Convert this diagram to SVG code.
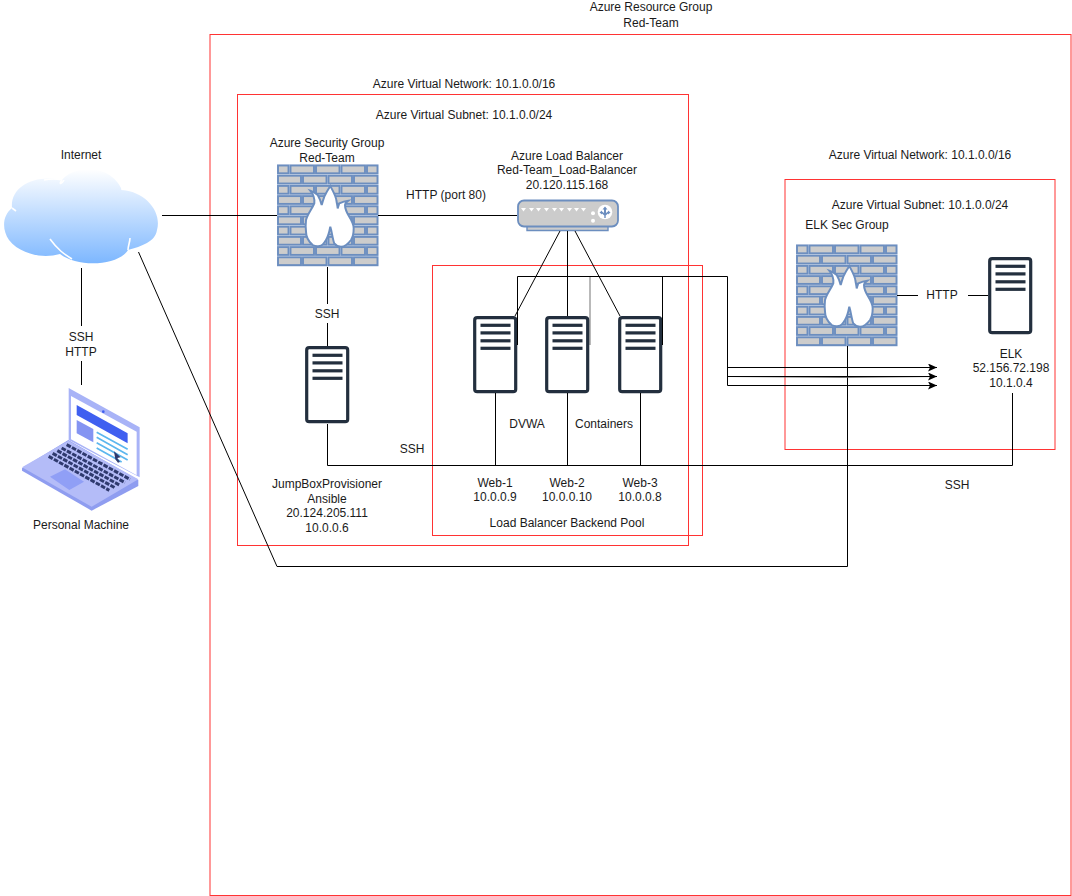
<svg xmlns="http://www.w3.org/2000/svg" xmlns:xlink="http://www.w3.org/1999/xlink" width="1072" height="896" viewBox="0 0 1072 896">
<style>
text{font-family:"Liberation Sans",Arial,Helvetica,sans-serif;font-size:12px;fill:#1a1a1a;text-anchor:middle}
.zone{fill:none;stroke:#ff3333;stroke-width:1}
.c{fill:none;stroke:#000;stroke-width:1}
.a{marker-end:url(#arrow)}
.b{fill:#ccc;stroke:#6c8ebf;stroke-width:1.9}
.bar{fill:#232f3e}
.bg{fill:#fff}
</style>
<defs>
<linearGradient id="cloudFill" x1="0" y1="0" x2="0" y2="1"><stop offset="0" stop-color="#ffffff"/><stop offset="1" stop-color="#7db7ff"/></linearGradient>
<linearGradient id="fade" gradientUnits="userSpaceOnUse" x1="727" y1="0" x2="937" y2="0"><stop offset="0" stop-color="#666" stop-opacity="0"/><stop offset=".55" stop-color="#555" stop-opacity=".8"/><stop offset="1" stop-color="#666" stop-opacity="0"/></linearGradient>
<marker id="arrow" markerUnits="userSpaceOnUse" markerWidth="10" markerHeight="8" refX="9" refY="4" orient="auto"><path d="M0 0L9 4L0 8L2 4Z" fill="#000"/></marker>
<g id="bricksOdd"><rect class="b" x="1" y="1" width="10.500" height="7.800"/><rect class="b" x="13.500" y="1" width="23.500" height="7.800"/><rect class="b" x="39" y="1" width="23.500" height="7.800"/><rect class="b" x="64.500" y="1" width="23.500" height="7.800"/><rect class="b" x="90" y="1" width="10.500" height="7.800"/></g>
<g id="bricksEven"><rect class="b" x="1" y="1" width="23" height="7.800"/><rect class="b" x="26" y="1" width="23.500" height="7.800"/><rect class="b" x="51.500" y="1" width="23.500" height="7.800"/><rect class="b" x="77" y="1" width="23.500" height="7.800"/></g>
<g id="firewall">
<rect x="0" y="0" width="101.500" height="103" fill="#e4eaf5"/>
<use xlink:href="#bricksOdd" href="#bricksOdd" y="0.500"/><use xlink:href="#bricksEven" href="#bricksEven" y="10.700"/>
<use xlink:href="#bricksOdd" href="#bricksOdd" y="20.900"/><use xlink:href="#bricksEven" href="#bricksEven" y="31.100"/>
<use xlink:href="#bricksOdd" href="#bricksOdd" y="41.300"/><use xlink:href="#bricksEven" href="#bricksEven" y="51.500"/>
<use xlink:href="#bricksOdd" href="#bricksOdd" y="61.700"/><use xlink:href="#bricksEven" href="#bricksEven" y="71.900"/>
<use xlink:href="#bricksOdd" href="#bricksOdd" y="82.100"/><use xlink:href="#bricksEven" href="#bricksEven" y="92.300"/>
<path d="M53.300 22C56 27 59 32 59.500 37C60 40 60.500 42 60.700 44.300C61.500 42 62 40 62.300 39.300C65 38 68 37 71.300 36.700C69.500 38 68 39.500 68 41C68 45 70 49 72.300 52.700C75 57 76.700 60 76.700 64.300C76.700 69 76 73 74 76C71 80 68 82.700 64 82.700C61 82.700 59 81.500 57.300 79.300C55.500 75 55 68 53.300 62.700C52.500 67 51.500 72 49 76C47 79.500 45 82 42.300 82C39.500 82.500 37.500 82 35.700 81C31 77 29 72 29 67.700C28.500 63 28.500 60 29 56C30.500 50 35 45 37.300 39.300C37.800 35 36 30 33.300 26.700C36 27.500 38.500 29 40.700 31C42.500 34 44 38 44.700 41C45.500 38 46.500 35 47.300 32.700C49 29 51 25.500 53.300 22Z" fill="#fff" stroke="#6c8ebf" stroke-width="2"/>
</g>
<g id="server">
<rect x="1.700" y="1.700" width="41" height="74" rx="2.500" fill="#fff" stroke="#232f3e" stroke-width="3.200"/>
<rect class="bar" x="7.500" y="7.700" width="30" height="3.200"/><rect class="bar" x="7.500" y="15.300" width="30" height="3.200"/><rect class="bar" x="7.500" y="23.200" width="30" height="3.200"/><rect class="bar" x="7.500" y="30.700" width="30" height="3.200"/>
</g>
</defs>

<g id="zones">
<rect class="zone" x="210" y="34.500" width="861" height="861"/>
<rect class="zone" x="237.500" y="94.500" width="451" height="451"/>
<rect class="zone" x="432.500" y="265.500" width="270" height="270"/>
<rect class="zone" x="785" y="179.500" width="270" height="270"/>
</g>

<g id="node-internet">
<path d="M12 208C10 187 34 174 62 180C72 166 110 162 122 190C146 192 162 212 157 230C155 242 142 246 128 250C118 266 78 268 60 254C42 259 20 254 9 240C2 230 2 216 12 208Z" fill="url(#cloudFill)"/>
<path d="M62 180C58 185 62 184 64 180M62 180Q54 178 44 180M122 190C124 178 120 176 118 170M12 208L16 211M50 239C58 250 64 254 72 259M128 250C128 246 130 242 130 238" fill="none" stroke="#fff" stroke-width="1.600"/>
<text x="81" y="159">Internet</text>
</g>

<g id="node-personal-machine">
<g transform="translate(10 380) scale(.3333)">
<path d="M36 265L175 180L385 300L385 318L245 392L36 272Z" fill="#8f9df0"/>
<path d="M36 262L175 182L385 298L245 380Z" fill="#b4bcf8"/>
<path d="M176 24L389 142L389 292L176 180Z" fill="#a8b3f7"/>
<path d="M183 48L380 155L380 286L183 178Z" fill="#fff"/>
<path d="M200 75L353 160V190L200 105Z" fill="#3f5ff0"/>
<path d="M200 120L250 147V187L200 160Z" fill="#8494f2"/>
<path d="M260 157L353 208M260 172L353 224M260 188L353 240M260 204L335 246" stroke="#5cb6ee" stroke-width="5" fill="none"/>
<circle cx="280" cy="95" r="4" fill="#3f5ff0"/>
<path d="M312 214L332 232L322 234L330 246L324 248L316 238Z" fill="#2f3a6e"/>
<path d="M112 228L175 190L365 295L292 335Z" fill="#b4bcf8"/>
<g stroke="#2f3a6e" stroke-width="9" stroke-dasharray="14 4" fill="none"><path d="M170 194L360 298"/><path d="M155 204L345 308"/><path d="M142 212L330 316"/><path d="M128 220L316 324"/><path d="M116 229L298 331"/></g>
<path d="M120 290L165 268L222 305L178 330Z" fill="#909ff6"/>
</g>
<text x="81" y="529">Personal Machine</text>
</g>

<g id="node-security-group" transform="translate(277 164)"><use xlink:href="#firewall" href="#firewall"/></g>
<g id="node-security-group-label"><text x="327" y="147">Azure Security Group</text><text x="327" y="162">Red-Team</text></g>

<g id="node-load-balancer">
<path d="M527 226V230.500H608V226Z" fill="#ccc" stroke="#6c8ebf" stroke-width="1.400"/>
<rect x="518" y="200.500" width="100" height="26" rx="6" fill="#ccc" stroke="#6c8ebf" stroke-width="1.800"/>
<path d="M521 208h5l-2.500 3.500zM529 208h5l-2.500 3.500zM536 208h5l-2.500 3.500zM544 208h5l-2.500 3.500zM552 208h5l-2.500 3.500zM559 208h5l-2.500 3.500zM567 208h5l-2.500 3.500zM574 208h5l-2.500 3.500zM581 208h5l-2.500 3.500z" fill="#fff"/>
<circle cx="593" cy="213.300" r="2" fill="#fff"/><circle cx="593" cy="220.700" r="2" fill="#fff"/>
<circle cx="605" cy="212" r="7.300" fill="#fff"/>
<path d="M605 206.500L607.500 209.500H606V213L608 211.500V210.500L610.500 212.500L608 214.500V213.500L605.700 215.500V218H604.300V215.500L602 213.500V214.500L599.500 212.500L602 210.500V211.500L604 213V209.500H602.500Z" fill="#6c8ebf"/>
<text x="567" y="160">Azure Load Balancer</text><text x="567" y="174">Red-Team_Load-Balancer</text><text x="567" y="189">20.120.115.168</text>
</g>

<g id="node-jumpbox" transform="translate(305 346)"><use xlink:href="#server" href="#server"/></g>
<g id="node-jumpbox-label"><text x="327" y="488">JumpBoxProvisioner</text><text x="327" y="503">Ansible</text><text x="327" y="517">20.124.205.111</text><text x="327" y="532">10.0.0.6</text></g>

<g id="node-web-1"><use xlink:href="#server" href="#server" x="473" y="316"/><text x="495" y="487">Web-1</text><text x="495" y="501">10.0.0.9</text></g>
<g id="node-web-2"><use xlink:href="#server" href="#server" x="545" y="316"/><text x="567" y="487">Web-2</text><text x="567" y="501">10.0.0.10</text></g>
<g id="node-web-3"><use xlink:href="#server" href="#server" x="618" y="316"/><text x="640" y="487">Web-3</text><text x="640" y="501">10.0.0.8</text></g>

<g id="node-elk-firewall" transform="translate(796 244)"><use xlink:href="#firewall" href="#firewall"/></g>
<g id="node-elk-firewall-label"><text x="847" y="229">ELK Sec Group</text></g>
<g id="node-elk"><use xlink:href="#server" href="#server" x="988" y="257"/><text x="1011" y="358">ELK</text><text x="1011" y="372">52.156.72.198</text><text x="1011" y="387">10.1.0.4</text></g>

<g id="connectors">
<path class="c" d="M162 215.500H277"/>
<path class="c" d="M378 215.500H517"/>
<path class="c" d="M81.500 268V385"/>
<path class="c" d="M138.500 252L277 566.500H847.500V346"/>
<path class="c" d="M327.500 267V346"/>
<path class="c" d="M327.500 424V465.500H1012.500V393"/>
<path class="c" d="M560 231L515 316"/>
<path class="c" d="M567.500 231V316"/>
<path class="c" d="M575 231L620 316"/>
<path class="c" d="M517.500 345V276.500H727.500V385.500"/>
<path d="M590 345V277" fill="none" stroke="#000" stroke-opacity=".55" stroke-width="1"/>
<path class="c" d="M662.500 345V277"/>
<path class="c" d="M495.500 393V465M567.500 393V465M640.500 393V465"/>
<path class="c a" d="M727.500 367.500H937"/>
<path d="M727.500 377.500H937" fill="none" stroke="url(#fade)" stroke-width="1"/>
<path class="c a" d="M727.500 376.500H937"/>
<path class="c a" d="M727.500 385.500H937"/>
<path class="c" d="M897 295.500H988"/>
</g>

<g id="labels">
<rect class="bg" x="68" y="326" width="28" height="35"/><text x="81" y="341">SSH</text><text x="81" y="356">HTTP</text>
<rect class="bg" x="313" y="304" width="29" height="19"/><text x="327" y="318">SSH</text>
<rect class="bg" x="918" y="287" width="50" height="17"/><text x="942" y="299">HTTP</text>
<text x="446" y="199">HTTP (port 80)</text>
<text x="412" y="453">SSH</text>
<text x="527" y="428">DVWA</text>
<text x="604" y="428">Containers</text>
<text x="567" y="527">Load Balancer Backend Pool</text>
<text x="957" y="489">SSH</text>
<text x="651" y="11">Azure Resource Group</text><text x="651" y="27">Red-Team</text>
<text x="464" y="88">Azure Virtual Network: 10.1.0.0/16</text>
<text x="464" y="119">Azure Virtual Subnet: 10.1.0.0/24</text>
<text x="920" y="159">Azure Virtual Network: 10.1.0.0/16</text>
<text x="920" y="209">Azure Virtual Subnet: 10.1.0.0/24</text>
</g>
</svg>
